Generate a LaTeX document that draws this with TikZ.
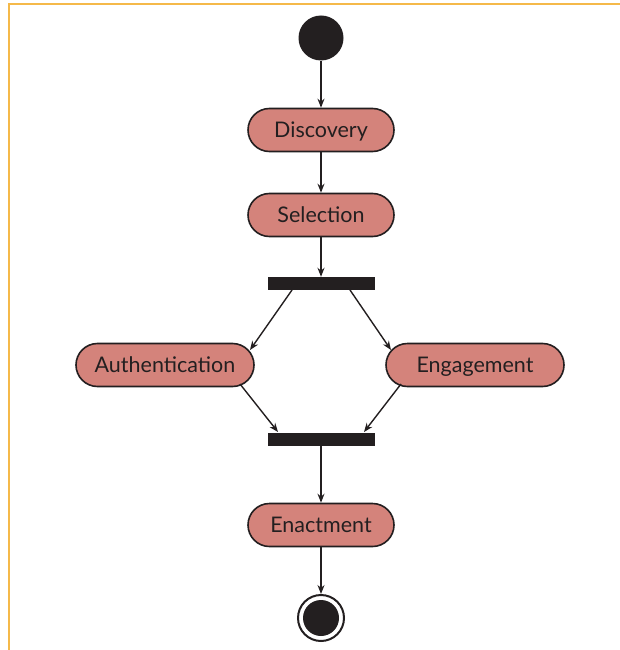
\documentclass[tikz,border=0pt]{standalone}
\usepackage{fontspec}
\setmainfont{Lato}
\usetikzlibrary{arrows.meta}
\definecolor{ink}{HTML}{231F20}
\definecolor{salmon}{HTML}{D4837B}
\definecolor{frame}{HTML}{F5B94A}
\tikzset{
  act/.style={draw=ink, line width=1.6pt, fill=salmon, rounded corners=21.5pt,
    minimum width=146pt, minimum height=43pt, inner sep=0pt, text height=15.5pt, text depth=0pt,
    font=\fontsize{21.5}{21.5}\selectfont, text=ink},
  wide/.style={minimum width=178pt},
  bar/.style={fill=ink, draw=none, minimum width=107pt, minimum height=13pt, inner sep=0pt},
  flow/.style={draw=ink, line width=1.4pt, -{Stealth[length=9pt,width=7pt]}},
}
\begin{document}
\begin{tikzpicture}[x=1pt,y=-1pt]
\useasboundingbox (0,0) rectangle (620,650);
\draw[frame, line width=1.5pt] (620,4) -- (9,4) -- (9,650);
\node[circle, fill=ink, minimum size=45pt, inner sep=0pt] (start) at (321,38) {};
\node[act] (disc) at (321,130) {Discovery};
\node[act] (sel) at (321,215) {Selection};
\node[bar] (fork) at (321,283.5) {};
\node[act, wide] (auth) at (165,365) {Authentication};
\node[act, wide] (eng) at (475,365) {Engagement};
\node[bar] (join) at (321,439) {};
\node[act] (enact) at (321,525) {Enactment};
\node[circle, draw=ink, line width=2pt, fill=white, minimum size=46pt, inner sep=0pt] (end) at (321,618) {};
\node[circle, fill=ink, minimum size=36pt, inner sep=0pt] (endin) at (321,618) {};
\coordinate (f1) at (292,290);
\coordinate (f2) at (350,290);
\coordinate (j1) at (278,432);
\coordinate (j2) at (364,432);
\coordinate (a1) at (250,350);
\coordinate (e1) at (391,350);
\coordinate (a2) at (240,384);
\coordinate (e2) at (401,384);
\draw[flow] (start) -- (disc);
\draw[flow] (disc) -- (sel);
\draw[flow] (sel) -- (fork);
\draw[flow] (f1) -- (a1);
\draw[flow] (f2) -- (e1);
\draw[flow] (a2) -- (j1);
\draw[flow] (e2) -- (j2);
\draw[flow] (join) -- (enact);
\draw[flow] (enact) -- (end);
\end{tikzpicture}
\end{document}
